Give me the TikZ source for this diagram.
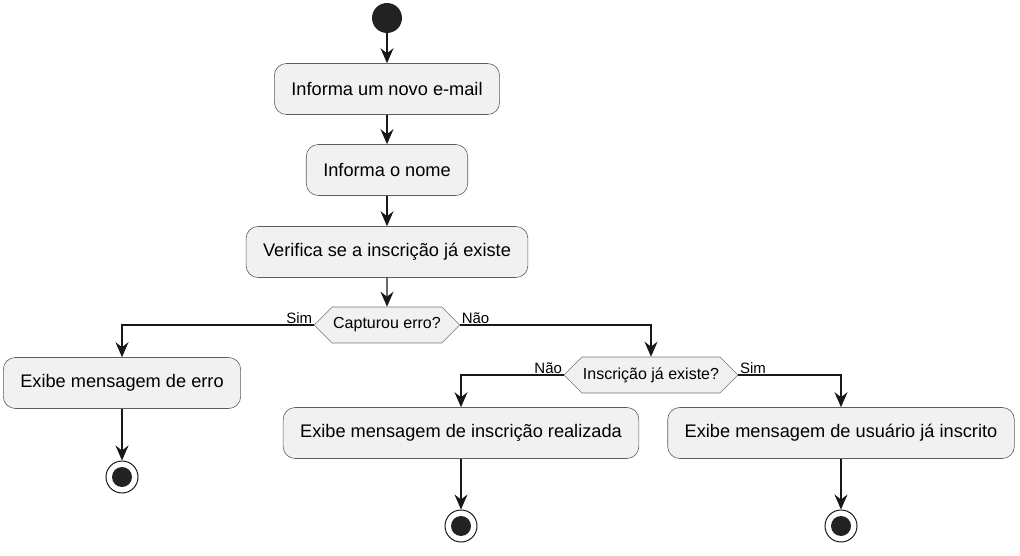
\documentclass[tikz,border=0pt]{standalone}
\usepackage{fontspec}
\setmainfont{Liberation Sans}
\usetikzlibrary{arrows.meta,shapes.symbols,positioning}
\definecolor{mfill}{HTML}{F1F1F1}
\definecolor{mline}{HTML}{181818}
\definecolor{mdot}{HTML}{222222}
\tikzstyle{act}=[rectangle, rounded corners=12pt, draw=mline!70, fill=mfill, line width=0.6pt, minimum height=51pt, inner xsep=17pt, font=\fontsize{18.2}{22}\selectfont]
\tikzstyle{dec}=[signal, signal to=west and east, signal pointer angle=90, draw=mline!60, fill=mfill, line width=0.6pt, minimum height=36pt, inner xsep=1pt, inner ysep=0pt, font=\fontsize{16}{19}\selectfont]
\tikzstyle{start}=[circle, fill=mdot, minimum size=30pt, inner sep=0pt]
\tikzstyle{stop}=[circle, draw=mline, line width=1pt, minimum size=32pt, inner sep=0pt, path picture={\fill[mdot] (path picture bounding box.center) circle (10pt);}]
\tikzstyle{l1}=[line width=1.1pt, draw=mline]
\tikzstyle{arr}=[l1, -{Stealth[length=15pt, width=13pt, inset=5pt]}]
\tikzstyle{lbl}=[font=\fontsize{15}{17}\selectfont, inner sep=1pt]

\begin{document}
\begin{tikzpicture}[x=1pt,y=-1pt]
    \useasboundingbox (0,0) rectangle (1020,556);
    \node[start] (s) at (387, 18) {};
    \node[act] (a1) at (387, 89) {Informa um novo e-mail};
    \node[act] (a2) at (387, 170) {Informa o nome};
    \node[act] (a3) at (387, 252) {Verifica se a inscrição já existe};
    \node[dec] (d1) at (387, 325) {Capturou erro?};
    \node[act] (e1) at (122, 383) {Exibe mensagem de erro};
    \node[stop] (f1) at (122, 477) {};
    \node[dec] (d2) at (651, 375) {Inscrição já existe?};
    \node[act] (e2) at (461, 433) {Exibe mensagem de inscrição realizada};
    \node[act] (e3) at (841, 433) {Exibe mensagem de usuário já inscrito};
    \node[stop] (f2) at (461, 526) {};
    \node[stop] (f3) at (841, 526) {};

    \draw[arr] (s) -- (a1);
    \draw[arr] (a1) -- (a2);
    \draw[arr] (a2) -- (a3);
    \draw[arr] (a3) -- (d1);
    \draw[arr] (d1.west) node[lbl, anchor=south east] {Sim} -| (e1.north);
    \draw[arr] (d1.east) node[lbl, anchor=south west] {Não} -| (d2.north);
    \draw[arr] (e1) -- (f1);
    \draw[arr] (d2.west) node[lbl, anchor=south east] {Não} -| (e2.north);
    \draw[arr] (d2.east) node[lbl, anchor=south west] {Sim} -| (e3.north);
    \draw[arr] (e2) -- (f2);
    \draw[arr] (e3) -- (f3);
\end{tikzpicture}
\end{document}
